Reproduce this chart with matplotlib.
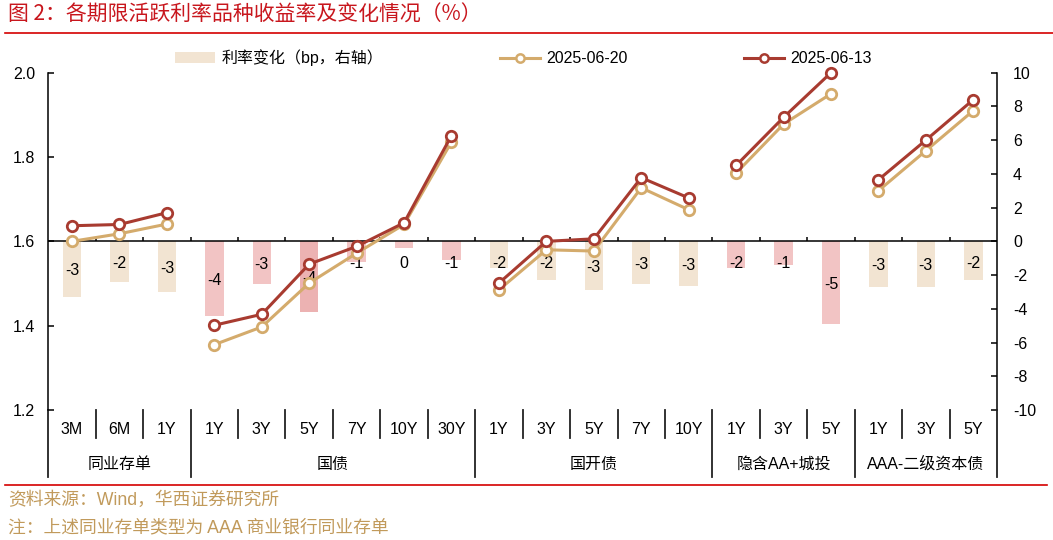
import numpy as np
import matplotlib
matplotlib.use('Agg')
import matplotlib.pyplot as plt
import matplotlib.transforms as mtransforms
from matplotlib.patches import Patch
from matplotlib.lines import Line2D

plt.rcParams['font.family'] = ['Liberation Sans', 'Noto Sans CJK SC']
plt.rcParams['axes.unicode_minus'] = False

# Data
groups = ['同业存单', '国债', '国开债', '隐含AA+城投', 'AAA-二级资本债']
group_terms = [['3M', '6M', '1Y'],
               ['1Y', '3Y', '5Y', '7Y', '10Y', '30Y'],
               ['1Y', '3Y', '5Y', '7Y', '10Y'],
               ['1Y', '3Y', '5Y'],
               ['1Y', '3Y', '5Y']]
yield_0620 = [1.600, 1.618, 1.641,
              1.355, 1.397, 1.501, 1.572, 1.640, 1.836,
              1.485, 1.580, 1.577, 1.727, 1.675,
              1.762, 1.878, 1.950,
              1.720, 1.815, 1.910]
yield_0613 = [1.637, 1.640, 1.668,
              1.401, 1.427, 1.546, 1.588, 1.644, 1.851,
              1.501, 1.600, 1.606, 1.751, 1.703,
              1.780, 1.894, 2.000,
              1.746, 1.840, 1.936]
chg_bp = [-3.3, -2.4, -3.0,
          -4.45, -2.55, -4.2, -1.2, -0.4, -1.1,
          -1.6, -2.3, -2.9, -2.55, -2.65,
          -1.6, -1.4, -4.9,
          -2.7, -2.7, -2.3]

# Styles
tan = '#D4AB6C'
red = '#A83B30'
bar_tan = '#F2E4D2'
bar_pink = '#F2C4C4'
bar_pink2 = '#ECB2B2'
bar_colors = ([bar_tan] * 3
              + [bar_pink, bar_pink, bar_pink2, bar_pink, bar_pink, bar_pink]
              + [bar_tan] * 5 + [bar_pink] * 3 + [bar_tan] * 3)
fs = 11.5

W, H = 1053, 540
fig = plt.figure(figsize=(W / 100, H / 100), dpi=100)
left, right, top, bottom = 48.3, 997, 72.7, 410
ax = fig.add_axes([left / W, 1 - bottom / H, (right - left) / W, (bottom - top) / H])
ax2 = ax.twinx()
ax.set_zorder(ax2.get_zorder() + 1)
ax.patch.set_visible(False)

terms = [t for g in group_terms for t in g]
n = len(terms)
x = np.arange(n) + 0.5
sizes = [len(g) for g in group_terms]
edges = np.concatenate([[0], np.cumsum(sizes)])

# bars on right axis
ax2.bar(x, chg_bp, width=0.39, color=bar_colors, zorder=1)
for xi, v in zip(x, chg_bp):
    ax2.text(xi, min(v / 2, -1.2) - 0.1, f'{round(v)}', ha='center', va='center',
             fontsize=fs, color='black', zorder=3)
ax2.axhline(0, color='black', lw=1.1, zorder=2)
ax2.vlines(np.arange(1, n), 0, 0.25, color='black', lw=1.1, zorder=2)

# lines on left axis, one segment per group
for a, b in zip(edges[:-1], edges[1:]):
    ax.plot(x[a:b], yield_0620[a:b], color=tan, lw=2.2, marker='o', ms=7.5,
            mfc='white', mec=tan, mew=2.0, zorder=3, clip_on=False)
    ax.plot(x[a:b], yield_0613[a:b], color=red, lw=2.2, marker='o', ms=7.5,
            mfc='white', mec=red, mew=2.0, zorder=4, clip_on=False)

ax.set_xlim(0, n)
ax2.set_xlim(0, n)
ax.set_ylim(1.2, 2.0)
ax2.set_ylim(-10, 10)
ax.set_yticks(np.arange(1.2, 2.01, 0.2))
ax.set_yticklabels([f'{v:.1f}' for v in np.arange(1.2, 2.01, 0.2)])
ax2.set_yticks(np.arange(-10, 11, 2))
ax.tick_params(axis='y', direction='in', length=4, width=1.1, pad=9.5, labelsize=fs)
ax2.tick_params(axis='y', direction='in', length=4, width=1.1, pad=11.5, labelsize=fs)
ax.set_xticks([])
ax2.set_xticks([])
for s in ['top', 'bottom', 'right']:
    ax.spines[s].set_visible(False)
for s in ['top', 'bottom', 'left']:
    ax2.spines[s].set_visible(False)
ax.spines['left'].set_linewidth(1.1)
ax2.spines['right'].set_linewidth(1.1)

# category axis below the plot
trans = mtransforms.blended_transform_factory(ax.transData, ax.transAxes)
ah = bottom - top
for xi, t in zip(x, terms):
    ax.text(xi, -20 / ah, t, transform=trans, ha='center', va='center', fontsize=fs)
for a, b, g in zip(edges[:-1], edges[1:], groups):
    ax.text((a + b) / 2, -54 / ah, g, transform=trans, ha='center', va='center', fontsize=fs)
for e in range(n + 1):
    y1 = -67 / ah if e in edges else -28 / ah
    ax.plot([e, e], [0, y1], transform=trans, color='#222222', lw=1.3, clip_on=False)

# legend
handles = [Patch(facecolor=bar_tan, edgecolor='none'),
           Line2D([], [], color=tan, lw=2.2, marker='o', ms=6, mfc='white', mec=tan, mew=1.8),
           Line2D([], [], color=red, lw=2.2, marker='o', ms=6, mfc='white', mec=red, mew=1.8)]
labels = ['利率变化（bp，右轴）', '2025-06-20', '2025-06-13']
fig.legend(handles, labels, ncol=3, loc='center left', bbox_to_anchor=(175 / W, 1 - 58 / H),
           frameon=False, borderpad=0, borderaxespad=0, handlelength=2.5,
           handletextpad=0.4, columnspacing=7.3, fontsize=fs)

# title, rules and notes
fig.text(8 / W, 1 - 15 / H, '图 2：各期限活跃利率品种收益率及变化情况（%）', color='#C8161D',
         fontsize=15, ha='left', va='center', family=['Noto Sans CJK SC', 'DejaVu Sans'])
fig.add_artist(Line2D([5 / W, 1], [1 - 33 / H] * 2, transform=fig.transFigure, color='#D40000', lw=1.2))
fig.add_artist(Line2D([5 / W, 1047 / W], [1 - 485 / H] * 2, transform=fig.transFigure, color='#D40000', lw=1.2))
note_color = '#C19A5B'
fig.text(8 / W, 1 - 500 / H, '资料来源：Wind，华西证券研究所', color=note_color, fontsize=12.8,
         ha='left', va='center')
fig.text(8 / W, 1 - 528 / H, '注：上述同业存单类型为 AAA 商业银行同业存单', color=note_color, fontsize=12.8,
         ha='left', va='center')

fig.savefig('out.png', dpi=100)
